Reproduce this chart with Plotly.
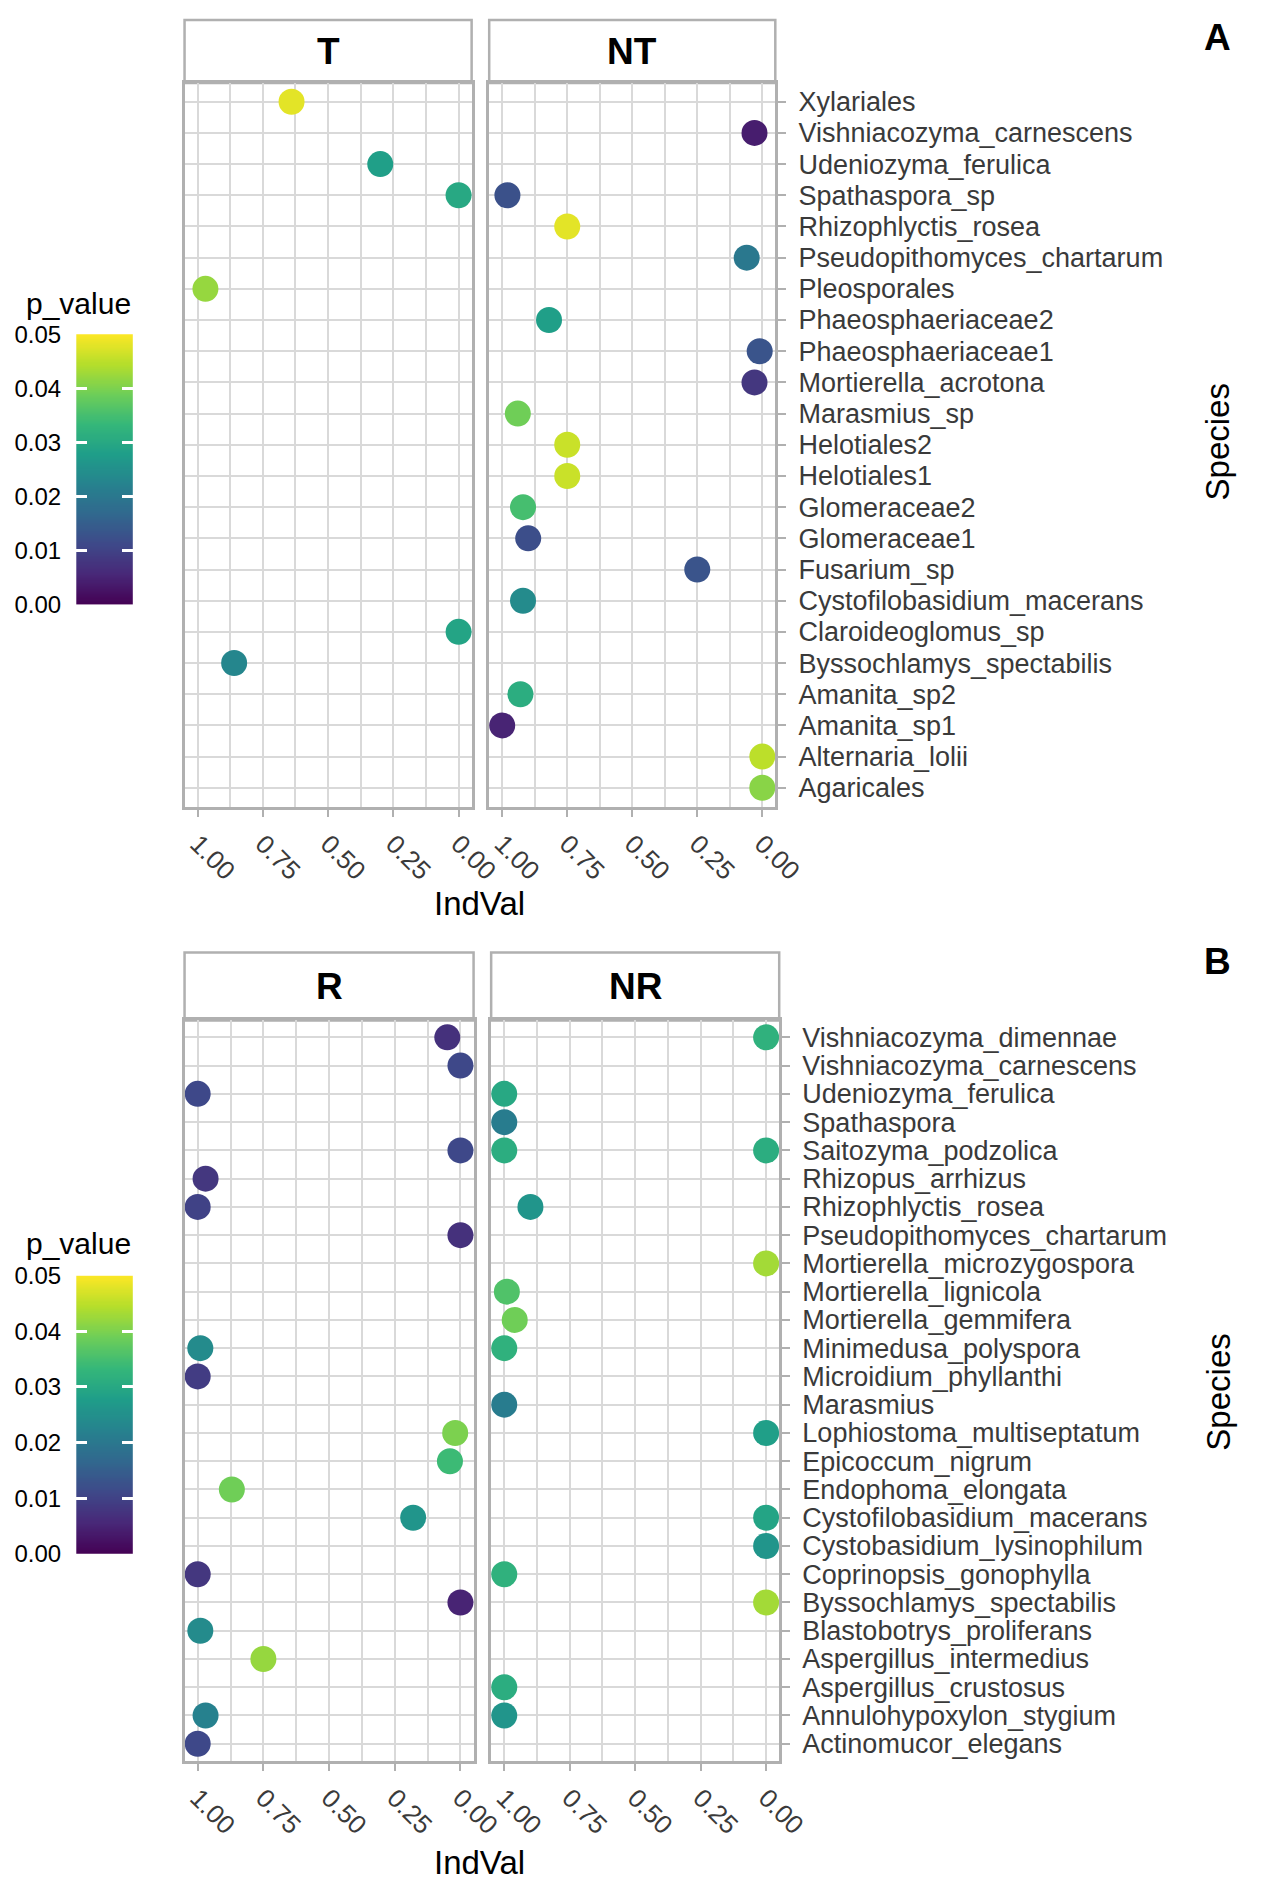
import numpy as np
import plotly.graph_objects as go

W, H = 1274, 1890

# ---------------- DATA ----------------
species_A = ["Agaricales", "Alternaria_lolii", "Amanita_sp1", "Amanita_sp2",
             "Byssochlamys_spectabilis", "Claroideoglomus_sp", "Cystofilobasidium_macerans",
             "Fusarium_sp", "Glomeraceae1", "Glomeraceae2", "Helotiales1", "Helotiales2",
             "Marasmius_sp", "Mortierella_acrotona", "Phaeosphaeriaceae1", "Phaeosphaeriaceae2",
             "Pleosporales", "Pseudopithomyces_chartarum", "Rhizophlyctis_rosea",
             "Spathaspora_sp", "Udeniozyma_ferulica", "Vishniacozyma_carnescens", "Xylariales"]

T_species = ["Xylariales", "Udeniozyma_ferulica", "Spathaspora_sp", "Pleosporales",
             "Claroideoglomus_sp", "Byssochlamys_spectabilis"]
T_indval = [0.64, 0.30, 0.00, 0.97, 0.00, 0.86]
T_pvalue = [0.048, 0.028, 0.030, 0.042, 0.029, 0.023]

NT_species = ["Vishniacozyma_carnescens", "Spathaspora_sp", "Rhizophlyctis_rosea",
              "Pseudopithomyces_chartarum", "Phaeosphaeriaceae2", "Phaeosphaeriaceae1",
              "Mortierella_acrotona", "Marasmius_sp", "Helotiales2", "Helotiales1",
              "Glomeraceae2", "Glomeraceae1", "Fusarium_sp", "Cystofilobasidium_macerans",
              "Amanita_sp2", "Amanita_sp1", "Alternaria_lolii", "Agaricales"]
NT_indval = [0.03, 0.98, 0.75, 0.06, 0.82, 0.01, 0.03, 0.94, 0.75, 0.75,
             0.92, 0.90, 0.25, 0.92, 0.93, 1.00, 0.00, 0.00]
NT_pvalue = [0.004, 0.0125, 0.048, 0.020, 0.028, 0.013, 0.008, 0.039, 0.046, 0.046,
             0.035, 0.012, 0.013, 0.024, 0.031, 0.005, 0.045, 0.041]

species_B = ["Actinomucor_elegans", "Annulohypoxylon_stygium", "Aspergillus_crustosus",
             "Aspergillus_intermedius", "Blastobotrys_proliferans", "Byssochlamys_spectabilis",
             "Coprinopsis_gonophylla", "Cystobasidium_lysinophilum", "Cystofilobasidium_macerans",
             "Endophoma_elongata", "Epicoccum_nigrum", "Lophiostoma_multiseptatum", "Marasmius",
             "Microidium_phyllanthi", "Minimedusa_polyspora", "Mortierella_gemmifera",
             "Mortierella_lignicola", "Mortierella_microzygospora", "Pseudopithomyces_chartarum",
             "Rhizophlyctis_rosea", "Rhizopus_arrhizus", "Saitozyma_podzolica", "Spathaspora",
             "Udeniozyma_ferulica", "Vishniacozyma_carnescens", "Vishniacozyma_dimennae"]

R_species = ["Vishniacozyma_dimennae", "Vishniacozyma_carnescens", "Udeniozyma_ferulica",
             "Saitozyma_podzolica", "Rhizopus_arrhizus", "Rhizophlyctis_rosea",
             "Pseudopithomyces_chartarum", "Minimedusa_polyspora", "Microidium_phyllanthi",
             "Lophiostoma_multiseptatum", "Epicoccum_nigrum", "Endophoma_elongata",
             "Cystofilobasidium_macerans", "Coprinopsis_gonophylla", "Byssochlamys_spectabilis",
             "Blastobotrys_proliferans", "Aspergillus_intermedius", "Annulohypoxylon_stygium",
             "Actinomucor_elegans"]
R_indval = [0.05, 0.00, 1.00, 0.00, 0.97, 1.00, 0.00, 0.99, 1.00, 0.02, 0.04, 0.87,
            0.18, 1.00, 0.00, 0.99, 0.75, 0.97, 1.00]
R_pvalue = [0.007, 0.011, 0.011, 0.011, 0.008, 0.010, 0.007, 0.024, 0.009, 0.040, 0.034,
            0.039, 0.026, 0.008, 0.005, 0.024, 0.042, 0.022, 0.011]

NR_species = ["Vishniacozyma_dimennae", "Udeniozyma_ferulica", "Spathaspora",
              "Saitozyma_podzolica", "Saitozyma_podzolica", "Rhizophlyctis_rosea",
              "Mortierella_microzygospora", "Mortierella_lignicola", "Mortierella_gemmifera",
              "Minimedusa_polyspora", "Marasmius", "Lophiostoma_multiseptatum",
              "Cystofilobasidium_macerans", "Cystobasidium_lysinophilum",
              "Coprinopsis_gonophylla", "Byssochlamys_spectabilis", "Aspergillus_crustosus",
              "Annulohypoxylon_stygium"]
NR_indval = [0.00, 1.00, 1.00, 1.00, 0.00, 0.90, 0.00, 0.99, 0.96, 1.00, 1.00, 0.00,
             0.00, 0.00, 1.00, 0.00, 1.00, 1.00]
NR_pvalue = [0.032, 0.030, 0.021, 0.031, 0.031, 0.026, 0.043, 0.036, 0.039, 0.032, 0.021,
             0.028, 0.029, 0.026, 0.032, 0.043, 0.031, 0.026]

x_ticks = [0.0, 0.25, 0.50, 0.75, 1.0]
x_minor = [0.125, 0.375, 0.625, 0.875]
cb_ticks = [0.0, 0.01, 0.02, 0.03, 0.04, 0.05]
P_MIN, P_MAX = 0.0, 0.05

# ---------------- STYLE ----------------
FONT = "Liberation Sans, Arial, sans-serif"
BORDER = "#b0b0b0"
GRID = "#d9d9d9"
TXT = "#3a3a3a"


def fx(p):
    return p / W


def fy(p):
    return 1 - p / H


fig = go.Figure()

panels = [
    (T_species, T_indval, T_pvalue, "x", "y", (189, 483), (70, 804), species_A, False),
    (NT_species, NT_indval, NT_pvalue, "x2", "y2", (501, 794), (70, 804), species_A, True),
    (R_species, R_indval, R_pvalue, "x3", "y3", (189, 485), (1021, 1772), species_B, False),
    (NR_species, NR_indval, NR_pvalue, "x4", "y4", (503, 798), (1021, 1772), species_B, True),
]

layout = {}
for sp, iv, pv, xa, ya, (x0, x1), (y0, y1), cats, lab in panels:
    fig.add_trace(go.Scatter(
        x=iv, y=sp, mode="markers", xaxis=xa, yaxis=ya, showlegend=False,
        marker=dict(size=26, color=pv, colorscale="Viridis", cmin=P_MIN, cmax=P_MAX,
                    line=dict(width=0)),
        cliponaxis=False,
    ))
    xk = "xaxis" + xa[1:]
    yk = "yaxis" + ya[1:]
    layout[xk] = dict(
        domain=[fx(x0), fx(x1)], anchor=ya, range=[1.05, -0.05],
        tickmode="array", tickvals=x_ticks, ticktext=[f"{v:.2f}" for v in x_ticks],
        tickangle=45, ticks="outside", ticklen=8, tickwidth=2, tickcolor=BORDER,
        ticklabelstandoff=1,
        tickfont=dict(family=FONT, size=26, color=TXT),
        showgrid=True, gridcolor=GRID, gridwidth=2,
        minor=dict(tickvals=x_minor, showgrid=True, gridcolor=GRID, gridwidth=1.6, ticks=""),
        showline=True, mirror=True, linecolor=BORDER, linewidth=2.5, zeroline=False,
    )
    layout[yk] = dict(
        domain=[fy(y1), fy(y0)], anchor=xa, type="category", categoryorder="array",
        categoryarray=cats, range=[-0.6, len(cats) - 0.4],
        tickmode="array", tickvals=cats, ticktext=cats,
        showgrid=True, gridcolor=GRID, gridwidth=2,
        showline=True, mirror=True, linecolor=BORDER, linewidth=2.5, zeroline=False,
        side="right", showticklabels=lab, ticks="outside" if lab else "",
        ticklen=8, tickwidth=2, tickcolor=BORDER, ticklabelstandoff=7,
        tickfont=dict(family=FONT, size=27, color=TXT),
    )

# colour bars drawn as heatmap columns with their own axes
cb_vals = np.linspace(P_MIN, P_MAX, 256)
for xa, ya, (y0, y1) in [("x5", "y5", (325, 599)), ("x6", "y6", (1280, 1562))]:
    fig.add_trace(go.Heatmap(
        x=[0], y=cb_vals, z=[[v] for v in cb_vals], xaxis=xa, yaxis=ya,
        colorscale="Viridis", zmin=P_MIN, zmax=P_MAX, showscale=False, hoverinfo="skip",
    ))
    layout["xaxis" + xa[1:]] = dict(domain=[fx(78), fx(136)], anchor=ya, range=[-0.5, 0.5],
                                   showticklabels=False, showgrid=False, zeroline=False,
                                   showline=False, ticks="")
    layout["yaxis" + ya[1:]] = dict(domain=[fy(y1), fy(y0)], anchor=xa, range=[P_MIN, P_MAX],
                                   tickmode="array", tickvals=cb_ticks,
                                   ticktext=[f"{v:.2f}" for v in cb_ticks],
                                   ticks="inside", ticklen=11, tickwidth=2.5, tickcolor="white",
                                   mirror="ticks", showline=False, showgrid=False, zeroline=False,
                                   side="left", ticklabelstandoff=14,
                                   tickfont=dict(family=FONT, size=24, color="black"))

# facet strips
shapes = []
annotations = []
strips = [("T", (189, 483), (6, 70)), ("NT", (501, 794), (6, 70)),
          ("R", (189, 485), (952, 1021)), ("NR", (503, 798), (952, 1021))]
for lbl, (x0, x1), (y0, y1) in strips:
    shapes.append(dict(type="rect", xref="paper", yref="paper", x0=fx(x0), x1=fx(x1),
                       y0=fy(y1), y1=fy(y0), line=dict(color=BORDER, width=2.5),
                       fillcolor="white", layer="below"))
    annotations.append(dict(text=f"<b>{lbl}</b>", xref="paper", yref="paper",
                            x=fx((x0 + x1) / 2), y=fy((y0 + y1) / 2), showarrow=False,
                            xanchor="center", yanchor="middle",
                            font=dict(family=FONT, size=37, color="black")))

# titles / labels
for tag, ty, sy, iy, py in [("A", 24, 434, 902, 294), ("B", 961, 1398, 1875, 1247)]:
    annotations.append(dict(text=f"<b>{tag}</b>", xref="paper", yref="paper", x=fx(1247),
                            y=fy(ty), showarrow=False, xanchor="center", yanchor="middle",
                            font=dict(family=FONT, size=37, color="black")))
    annotations.append(dict(text="Species", xref="paper", yref="paper", x=fx(1247), y=fy(sy),
                            showarrow=False, textangle=-90, xanchor="center", yanchor="middle",
                            font=dict(family=FONT, size=33, color="black")))
    annotations.append(dict(text="IndVal", xref="paper", yref="paper", x=fx(491), y=fy(iy),
                            showarrow=False, xanchor="center", yanchor="middle",
                            font=dict(family=FONT, size=33, color="black")))
    annotations.append(dict(text="p_value", xref="paper", yref="paper", x=fx(136), y=fy(py),
                            showarrow=False, xanchor="right", yanchor="middle",
                            font=dict(family=FONT, size=30, color="black")))

fig.update_layout(
    width=W, height=H, margin=dict(l=0, r=0, t=0, b=0, pad=0),
    paper_bgcolor="white", plot_bgcolor="white",
    shapes=shapes, annotations=annotations, **layout,
)

fig.write_html("out.html")
